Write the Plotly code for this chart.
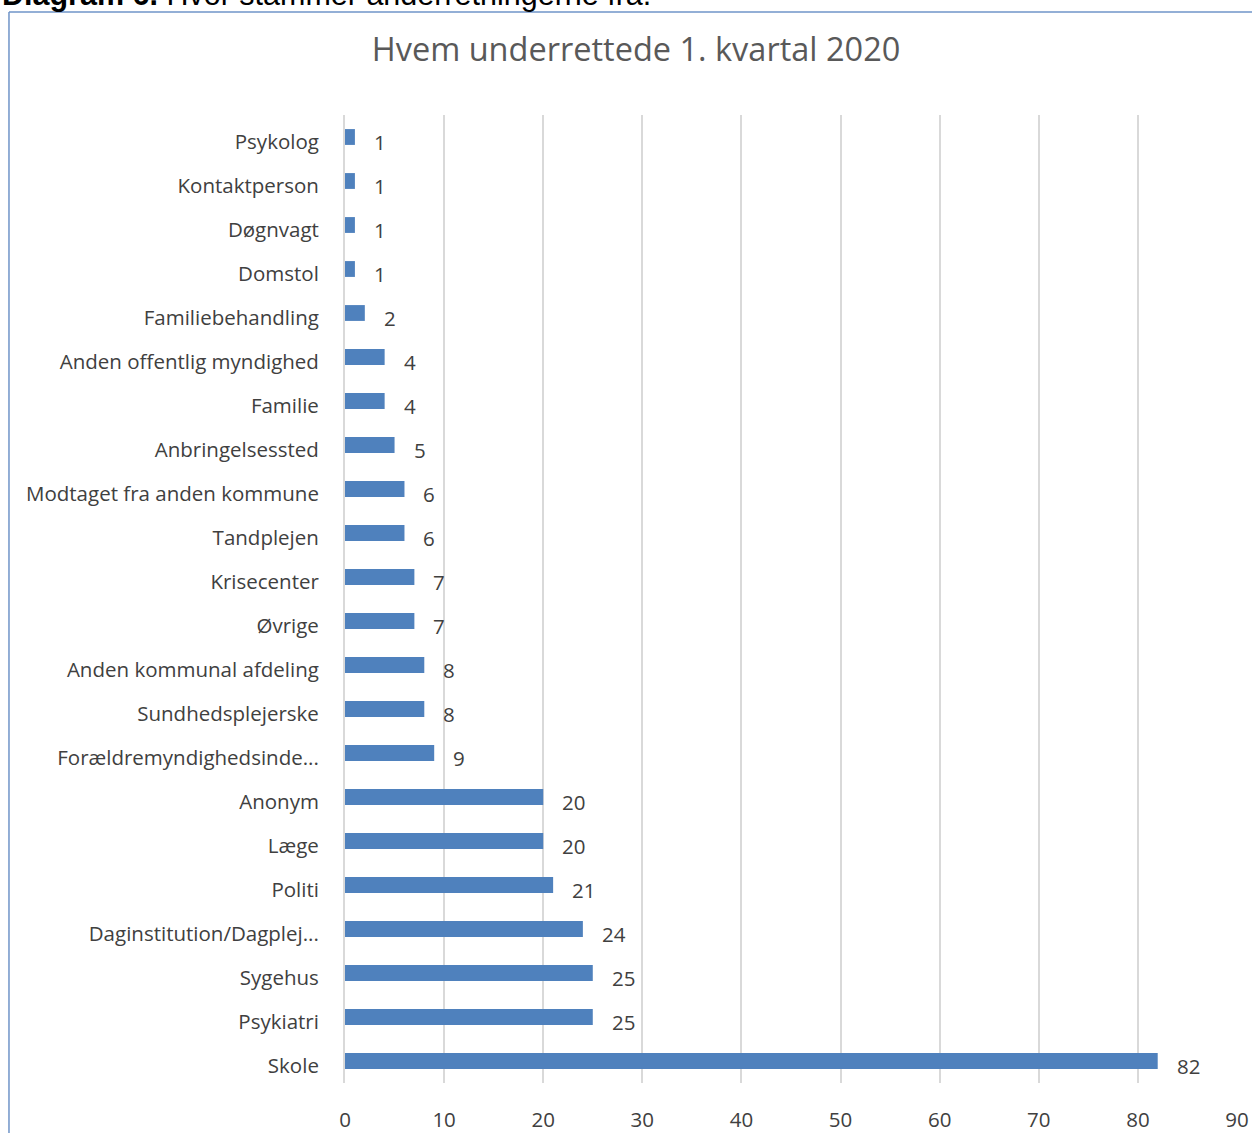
import plotly.graph_objects as go

categories = ["Psykolog", "Kontaktperson", "Døgnvagt", "Domstol", "Familiebehandling",
              "Anden offentlig myndighed", "Familie", "Anbringelsessted",
              "Modtaget fra anden kommune", "Tandplejen", "Krisecenter", "Øvrige",
              "Anden kommunal afdeling", "Sundhedsplejerske", "Forældremyndighedsinde...",
              "Anonym", "Læge", "Politi", "Daginstitution/Dagplej...", "Sygehus",
              "Psykiatri", "Skole"]
values = [1, 1, 1, 1, 2, 4, 4, 5, 6, 6, 7, 7, 8, 8, 9, 20, 20, 21, 24, 25, 25, 82]
x_ticks = [0, 10, 20, 30, 40, 50, 60, 70, 80, 90]

FONT = "Open Sans"
TXT = "#404040"
FS = 20.5

fig = go.Figure()
fig.add_trace(go.Bar(
    x=values, y=categories, orientation="h",
    marker=dict(color="#4F81BD", line=dict(width=0)),
    width=0.36, hoverinfo="x+y",
))

for c, v in zip(categories, values):
    fig.add_annotation(x=v, y=c, text=str(v), showarrow=False, xanchor="left",
                       xshift=17, yshift=-5, font=dict(family=FONT, size=FS, color=TXT))

# frame lines around the embedded chart (paper coords)
fig.add_shape(type="line", xref="paper", yref="paper", x0=-0.3767, x1=1.05,
              y0=1.1064, y1=1.1064, line=dict(color="#6F94C8", width=1.5))
fig.add_shape(type="line", xref="paper", yref="paper", x0=-0.3767, x1=-0.3767,
              y0=1.1064, y1=-0.06, line=dict(color="#6F94C8", width=1.5))

fig.add_annotation(xref="paper", yref="paper", x=-0.3867, y=1.1045, xanchor="left",
                   yanchor="bottom", showarrow=False,
                   text="<b>Diagram 6.</b> Hvor stammer anderretningerne fra.",
                   font=dict(family="Liberation Sans", size=30.5, color="#000000"))

fig.update_layout(
    width=1252, height=1133,
    margin=dict(l=345, r=15, t=115, b=50, autoexpand=False),
    paper_bgcolor="white", plot_bgcolor="white",
    title=dict(text="Hvem underrettede 1. kvartal 2020", x=0.508, xanchor="center",
               y=0.956, yanchor="middle",
               font=dict(family=FONT, size=32.5, color="#595959")),
    showlegend=False,
    bargap=0.64,
    xaxis=dict(range=[0, 90], tickvals=x_ticks, showgrid=True, gridcolor="#D9D9D9",
               gridwidth=2, zeroline=False, showline=False, ticks="",
               ticklabelstandoff=22, automargin=False,
               tickfont=dict(family=FONT, size=FS, color=TXT)),
    yaxis=dict(categoryorder="array", categoryarray=categories, autorange="reversed",
               showgrid=False, zeroline=False, showline=True, linecolor="#D9D9D9",
               linewidth=2, ticks="", ticklabelstandoff=20, ticklabelshift=-5,
               automargin=False,
               tickfont=dict(family=FONT, size=FS, color=TXT)),
)

fig.write_html("out.html",
               config={"displayModeBar": False},
               post_script="document.body.style.margin='0';document.body.style.overflow='hidden';document.documentElement.style.overflow='hidden';")
